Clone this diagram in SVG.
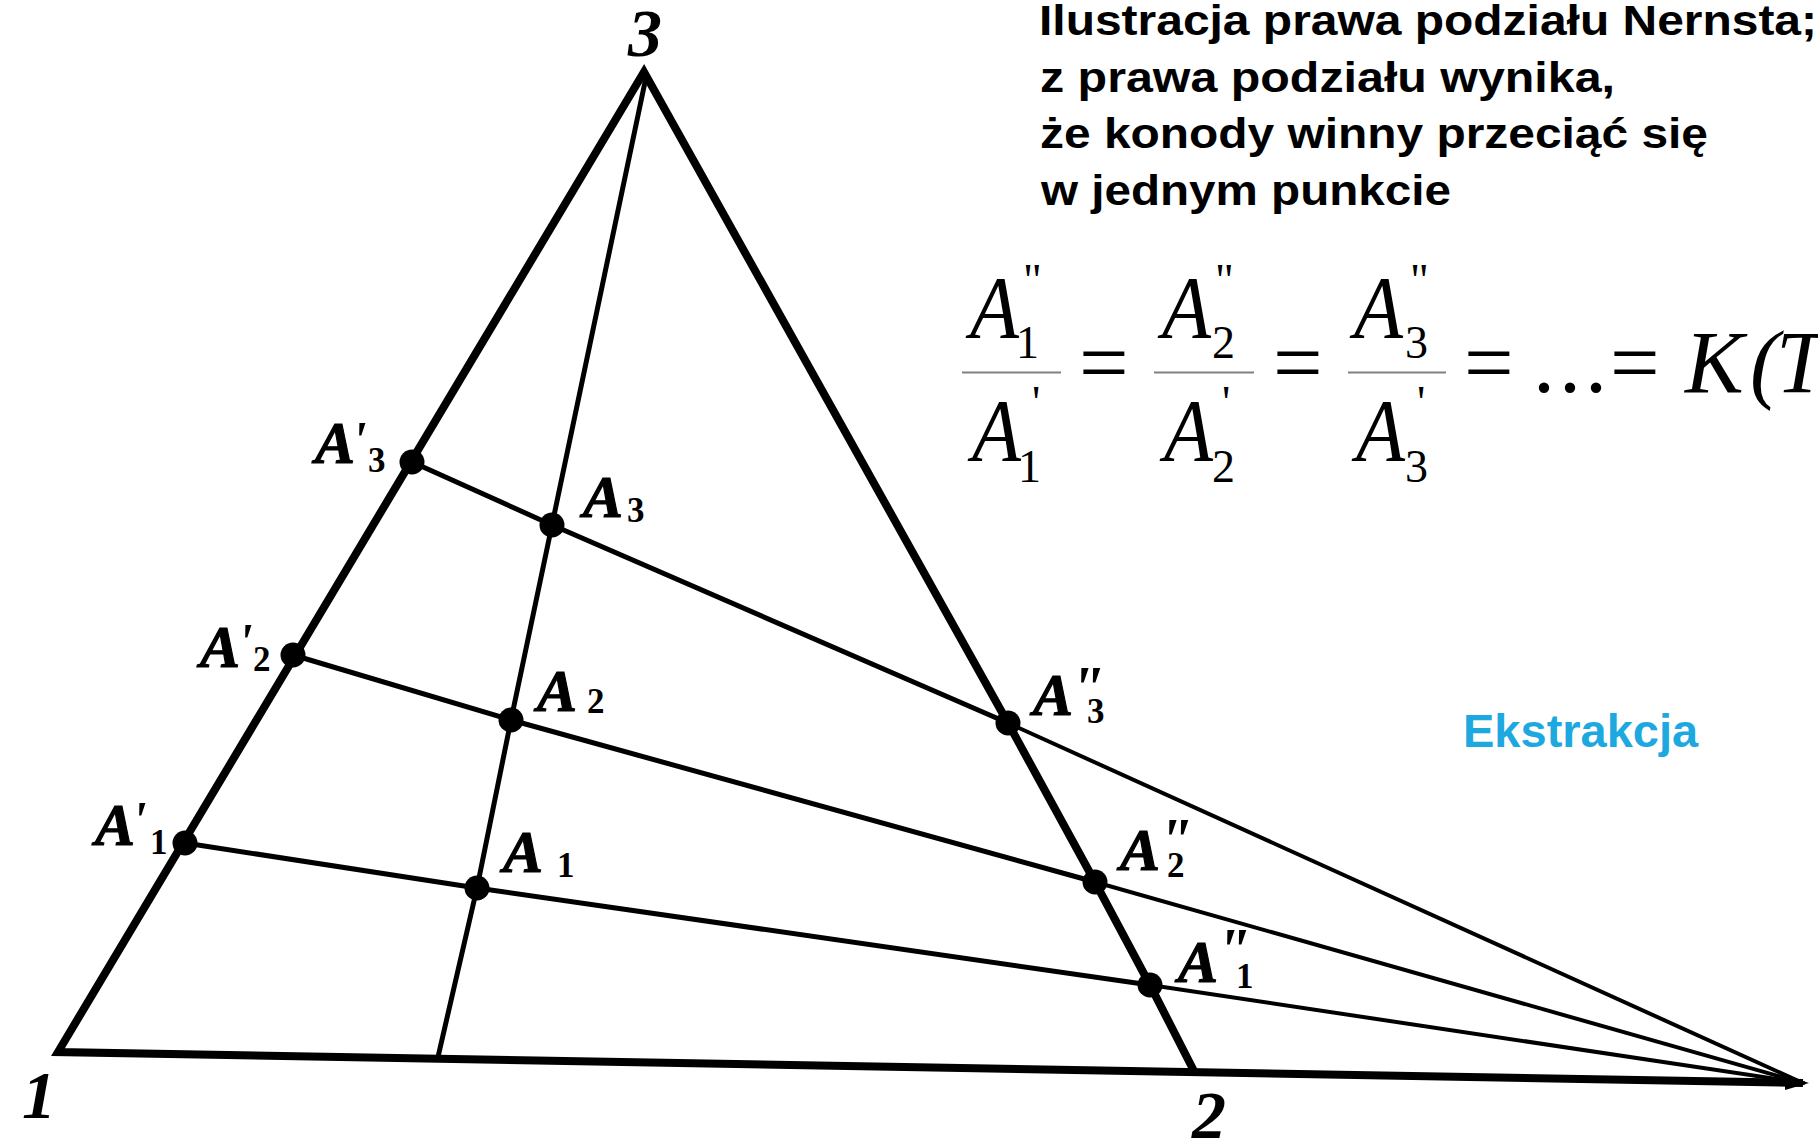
<svg xmlns="http://www.w3.org/2000/svg" width="1818" height="1145" viewBox="0 0 1818 1145">
<style>
.edge{fill:none;stroke:#000;stroke-width:8;stroke-linejoin:miter;stroke-miterlimit:6;stroke-linecap:butt}
.med{fill:none;stroke:#000;stroke-width:5;stroke-linecap:round;stroke-linejoin:round}
.tie{fill:none;stroke:#000;stroke-width:5;stroke-linecap:round;stroke-linejoin:round}
.tier{fill:none;stroke:#000;stroke-width:4;stroke-linecap:round;stroke-linejoin:round}
.dot{fill:#000}
.lbl{font-family:"Liberation Serif","Times New Roman",serif;font-weight:bold;font-style:italic;font-size:60px;fill:#000;stroke:#000;stroke-width:1.2}
.pr{font-family:"Liberation Serif","Times New Roman",serif;font-weight:bold;font-style:italic;font-size:52px;fill:#000}
.pp{font-family:"Liberation Serif","Times New Roman",serif;font-weight:bold;font-style:italic;font-size:62px;fill:#000}
.sub{font-family:"Liberation Serif","Times New Roman",serif;font-weight:bold;font-size:35px;fill:#000}
.vtx{font-family:"Liberation Serif","Times New Roman",serif;font-weight:bold;font-style:italic;font-size:68px;fill:#000}
.title{font-family:"Liberation Sans",Arial,sans-serif;font-weight:bold;font-size:42px;fill:#000}
.eq{font-family:"Liberation Serif","Times New Roman",serif;font-size:88px;fill:#000}
.eqi{font-style:italic}
.sm{font-family:"Liberation Serif","Times New Roman",serif;font-size:46px;fill:#000}
.bar{stroke:#808080;stroke-width:2}
.blue{font-family:"Liberation Sans",Arial,sans-serif;font-weight:bold;font-size:47px;fill:#1DA8E0}
</style>
<rect width="1818" height="1145" fill="#fff"/>

<g id="connectors">
  <path class="edge" d="M1803,1083 L58,1052 L644,72 L1008,723 L1095,882 L1150,985 L1195,1073"/>
  <path class="med" d="M645,82 L552,525 L511,720 L477,888 L438,1057"/>
  <path class="tie" d="M412,462 L552,525 L1008,723"/>
  <path class="tier" d="M1008,723 L1803,1083"/>
  <path class="tie" d="M293,655 L511,720 L1095,882"/>
  <path class="tier" d="M1095,882 L1803,1083"/>
  <path class="tie" d="M185,843 L477,888 L1150,985"/>
  <path class="tier" d="M1150,985 L1803,1083"/>
  <path d="M1785,1075 L1809,1083 L1785,1090 Z" fill="#000"/>
</g>

<g id="vertex-1"><text class="vtx" x="22" y="1118">1</text></g>
<g id="vertex-2"><text class="vtx" x="1192" y="1138">2</text></g>
<g id="vertex-3"><text class="vtx" x="628" y="56">3</text></g>

<g id="A1p"><circle class="dot" cx="185" cy="843" r="12.5"/>
  <text class="lbl" x="95" y="845">A</text><text class="pr" x="132" y="838">'</text><text class="sub" x="150" y="854">1</text></g>
<g id="A2p"><circle class="dot" cx="293" cy="655" r="12.5"/>
  <text class="lbl" x="200" y="667">A</text><text class="pr" x="238" y="660">'</text><text class="sub" x="253" y="671">2</text></g>
<g id="A3p"><circle class="dot" cx="412" cy="462" r="12.5"/>
  <text class="lbl" x="315" y="463">A</text><text class="pr" x="352" y="458">'</text><text class="sub" x="368" y="472">3</text></g>

<g id="A1"><circle class="dot" cx="477" cy="888" r="12.5"/>
  <text class="lbl" x="503" y="872">A</text><text class="sub" x="557" y="877">1</text></g>
<g id="A2"><circle class="dot" cx="511" cy="720" r="12.5"/>
  <text class="lbl" x="537" y="711">A</text><text class="sub" x="587" y="713">2</text></g>
<g id="A3"><circle class="dot" cx="552" cy="525" r="12.5"/>
  <text class="lbl" x="583" y="517">A</text><text class="sub" x="627" y="522">3</text></g>

<g id="A3pp"><circle class="dot" cx="1008" cy="723" r="12.5"/>
  <text class="lbl" x="1033" y="715">A</text><text class="pp" x="1070" y="708">"</text><text class="sub" x="1087" y="723">3</text></g>
<g id="A2pp"><circle class="dot" cx="1095" cy="882" r="12.5"/>
  <text class="lbl" x="1120" y="870">A</text><text class="pp" x="1158" y="860">"</text><text class="sub" x="1167" y="877">2</text></g>
<g id="A1pp"><circle class="dot" cx="1150" cy="985" r="12.5"/>
  <text class="lbl" x="1178" y="982">A</text><text class="pp" x="1216" y="970">"</text><text class="sub" x="1236" y="988">1</text></g>

<g id="title">
  <text class="title" x="1039" y="35" textLength="778" lengthAdjust="spacingAndGlyphs">Ilustracja prawa podziału Nernsta;</text>
  <text class="title" x="1040" y="92" textLength="575" lengthAdjust="spacingAndGlyphs">z prawa podziału wynika,</text>
  <text class="title" x="1040" y="148" textLength="668" lengthAdjust="spacingAndGlyphs">że konody winny przeciąć się</text>
  <text class="title" x="1041" y="205" textLength="410" lengthAdjust="spacingAndGlyphs">w jednym punkcie</text>
</g>

<g id="equation">
  <g id="frac1">
    <text class="eq eqi" x="970" y="337" textLength="49" lengthAdjust="spacingAndGlyphs">A</text><text class="sm" x="1016" y="358">1</text><text class="sm" x="1023" y="296">"</text>
    <line class="bar" x1="962" y1="372.5" x2="1061" y2="372.5"/>
    <text class="eq eqi" x="972" y="460" textLength="49" lengthAdjust="spacingAndGlyphs">A</text><text class="sm" x="1018" y="482">1</text><text class="sm" x="1032" y="418">'</text>
  </g>
  <g id="frac2">
    <text class="eq eqi" x="1162" y="337" textLength="49" lengthAdjust="spacingAndGlyphs">A</text><text class="sm" x="1212" y="358">2</text><text class="sm" x="1215" y="296">"</text>
    <line class="bar" x1="1154" y1="372.5" x2="1254" y2="372.5"/>
    <text class="eq eqi" x="1164" y="460" textLength="49" lengthAdjust="spacingAndGlyphs">A</text><text class="sm" x="1212" y="482">2</text><text class="sm" x="1222" y="418">'</text>
  </g>
  <g id="frac3">
    <text class="eq eqi" x="1354" y="337" textLength="49" lengthAdjust="spacingAndGlyphs">A</text><text class="sm" x="1405" y="358">3</text><text class="sm" x="1410" y="296">"</text>
    <line class="bar" x1="1348" y1="372.5" x2="1446" y2="372.5"/>
    <text class="eq eqi" x="1356" y="460" textLength="49" lengthAdjust="spacingAndGlyphs">A</text><text class="sm" x="1405" y="482">3</text><text class="sm" x="1417" y="418">'</text>
  </g>
  <text class="eq" x="1079" y="392">=</text>
  <text class="eq" x="1273" y="392">=</text>
  <text class="eq" x="1464" y="392">=</text>
  <text class="eq" x="1533 1559 1585" y="392">...</text>
  <text class="eq" x="1610" y="392">=</text>
  <text class="eq eqi" x="1685 1750 1776" y="392">K(T</text>
</g>

<g id="ekstrakcja"><text class="blue" x="1463" y="747">Ekstrakcja</text></g>
</svg>
